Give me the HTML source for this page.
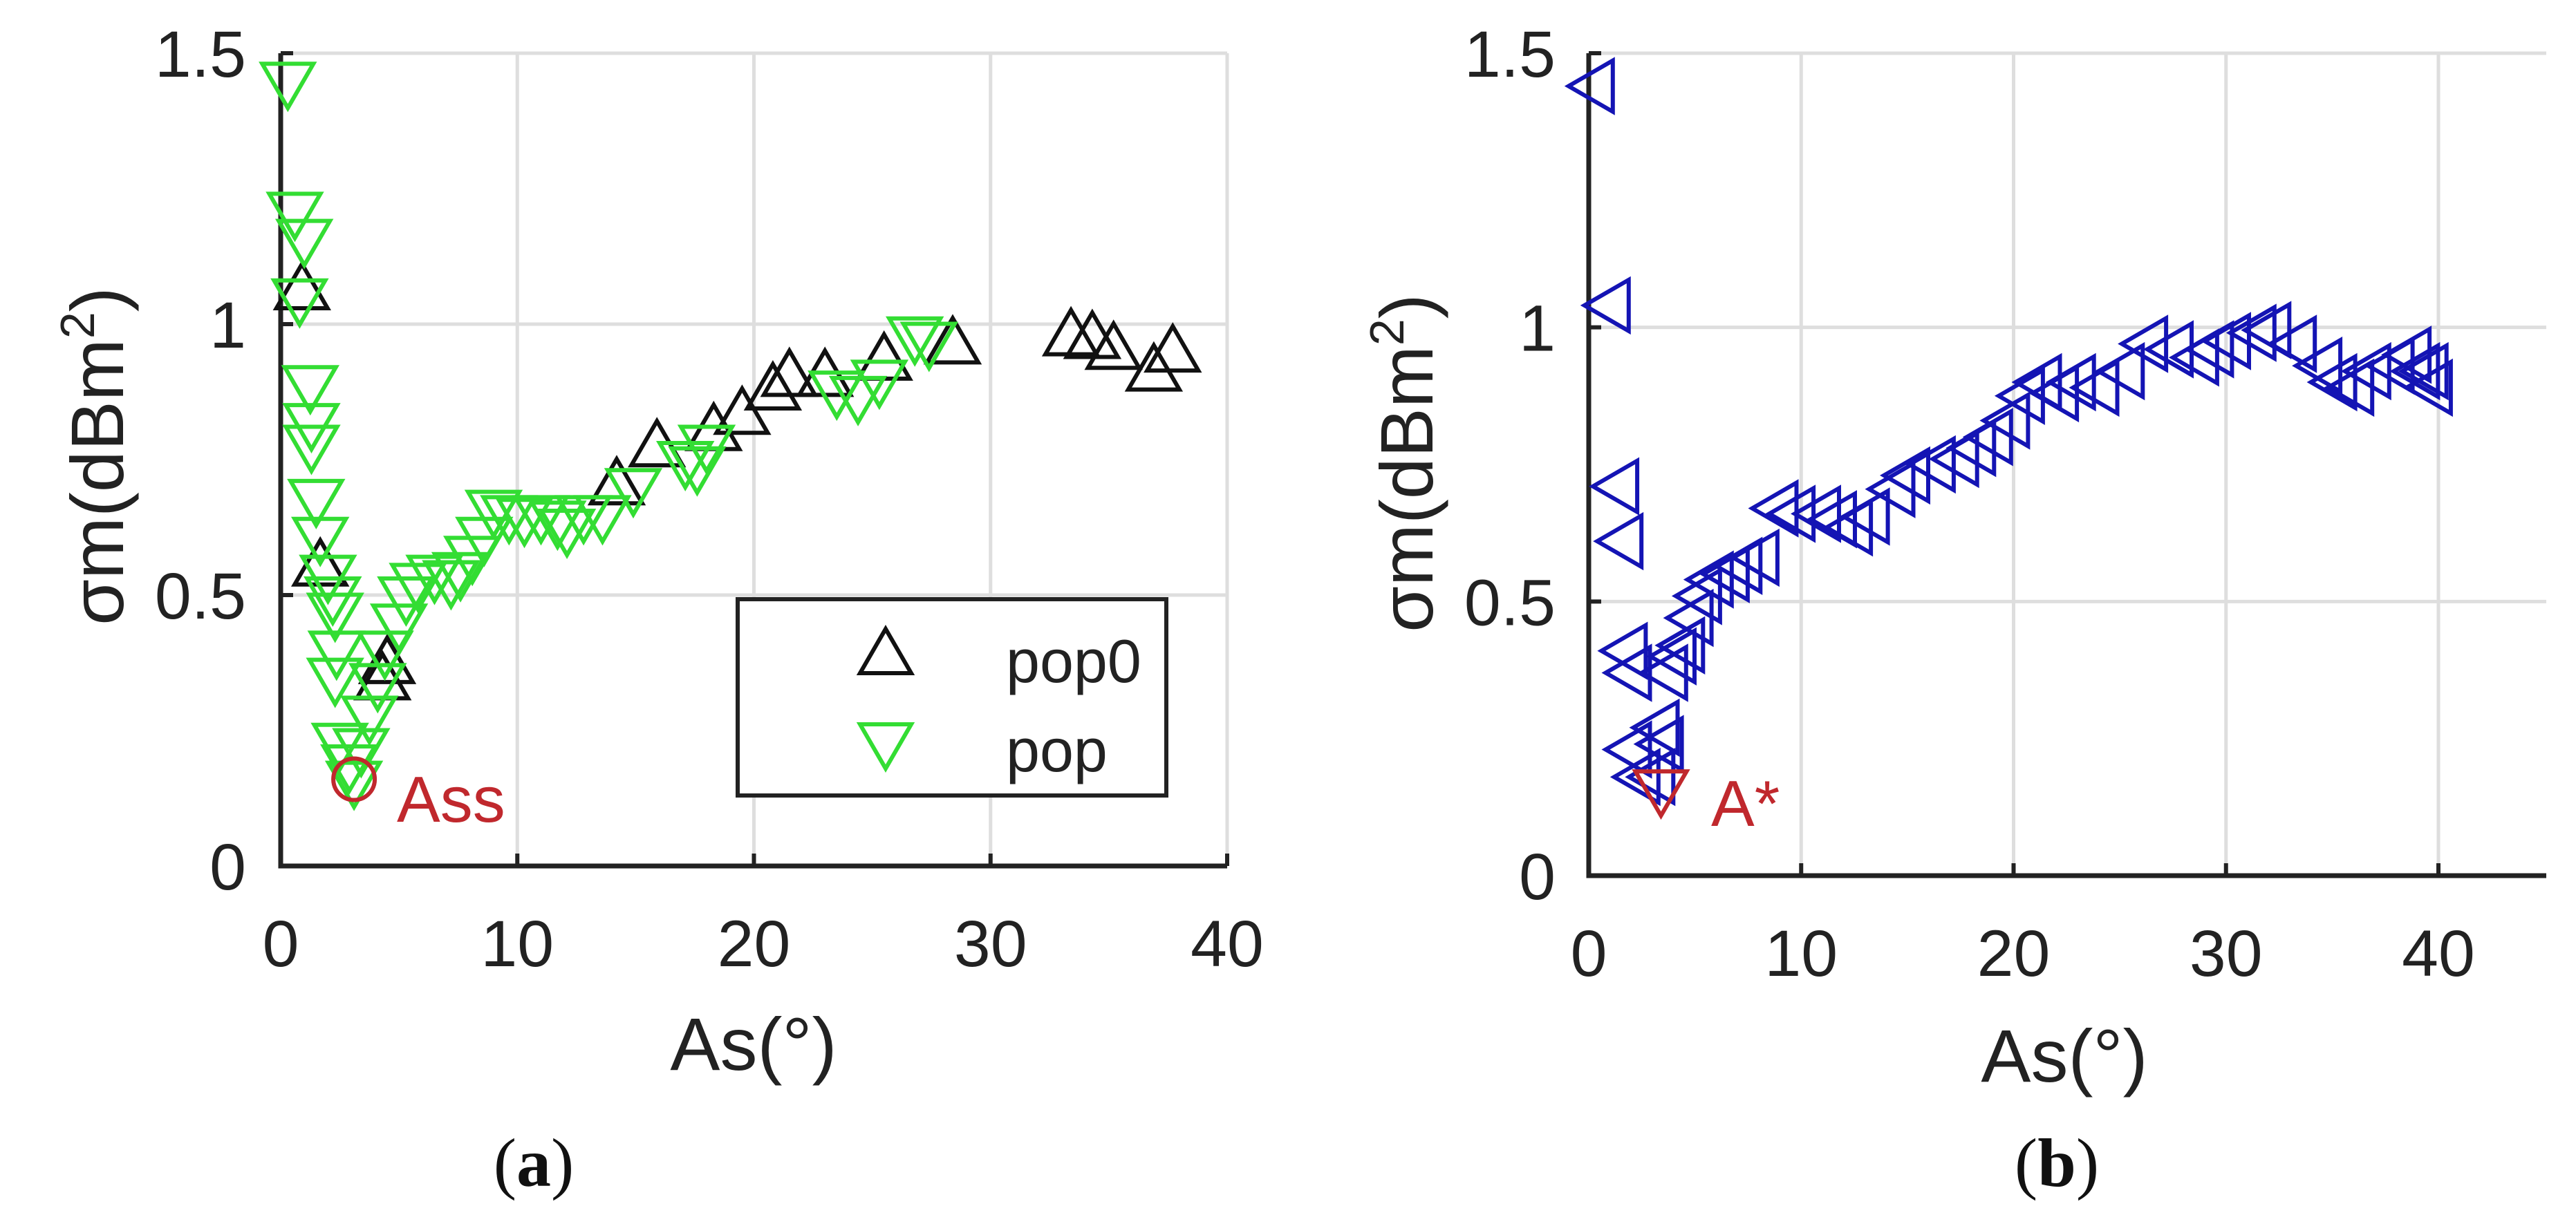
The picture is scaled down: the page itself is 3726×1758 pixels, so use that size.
<!DOCTYPE html>
<html><head><meta charset="utf-8"><style>
html,body{margin:0;padding:0;background:#fff;}
svg{display:block;font-family:"Liberation Sans",sans-serif;}
</style></head><body>
<svg id="fig" width="3726" height="1758" viewBox="0 0 3726 1758" xmlns="http://www.w3.org/2000/svg">
<g id="pa"></g>
<g id="pb"></g>
</svg>
<script>
const xTicks=[0,10,20,30,40];
const yTicks=[0,0.5,1,1.5];
const yTickLabels=["0","0.5","1","1.5"];
const pop0X=[0.9,1.67,4.3,4.5,14.2,15.9,18.3,19.5,20.8,21.5,23,25.5,28.4,33.4,34.3,35.2,36.9,37.7];
const pop0Y=[1.06,0.55,0.34,0.37,0.70,0.77,0.80,0.83,0.875,0.90,0.90,0.93,0.96,0.975,0.97,0.95,0.91,0.945];
const popX=[0.3,0.6,1.0,0.8,1.25,1.3,1.3,1.5,1.67,2.0,2.2,2.3,2.36,2.3,2.5,2.9,3.1,3.4,3.75,4.1,4.4,5.0,5.3,5.8,6.5,7.2,7.6,8.1,8.6,9.0,9.65,10.3,11.0,11.7,12.1,12.8,13.6,14.9,17.1,17.6,18.0,23.5,24.4,25.3,26.8,27.4];
const popY=[1.45,1.21,1.16,1.05,0.89,0.82,0.78,0.68,0.61,0.54,0.50,0.47,0.40,0.35,0.23,0.19,0.16,0.22,0.28,0.34,0.40,0.45,0.50,0.525,0.54,0.53,0.545,0.575,0.61,0.66,0.65,0.645,0.65,0.64,0.625,0.65,0.65,0.70,0.75,0.74,0.78,0.88,0.87,0.90,0.98,0.97];
const assX=[3.1], assY=[0.16];
const bX=[0.35,1.1,1.5,1.7,1.9,2.1,2.1,2.5,3.2,3.4,3.6,3.8,4.2,4.6,5.0,5.4,5.95,6.7,7.3,8.1,9.0,9.8,11.0,11.75,12.5,13.3,14.5,15.2,16.4,17.5,18.3,19.1,19.9,20.6,21.4,22.2,23,24.1,25.3,26.4,27.6,28.8,29.5,30.3,31.5,32.2,33.4,34.6,35.3,36.1,36.9,38.0,38.8,39.2,39.6,39.8];
const bY=[1.44,1.04,0.71,0.61,0.41,0.37,0.23,0.18,0.18,0.27,0.24,0.37,0.40,0.42,0.47,0.51,0.54,0.55,0.565,0.58,0.67,0.66,0.66,0.65,0.635,0.655,0.705,0.73,0.75,0.76,0.78,0.80,0.83,0.875,0.90,0.88,0.90,0.89,0.92,0.97,0.96,0.945,0.96,0.975,0.99,0.995,0.97,0.93,0.90,0.89,0.92,0.93,0.95,0.92,0.92,0.89];
const bestX=[3.4], bestY=[0.16];

const NS="http://www.w3.org/2000/svg";
function mk(parent,tag,attrs,text){const e=document.createElementNS(NS,tag);for(const k in attrs)e.setAttribute(k,attrs[k]);if(text!==undefined)e.textContent=text;parent.appendChild(e);return e;}
function tri(dir,x,y){const a=40,b=37,c=24;let p;
 if(dir==='up')p=[[x,y-a],[x+b,y+c],[x-b,y+c]];
 else if(dir==='down')p=[[x,y+a],[x+b,y-c],[x-b,y-c]];
 else p=[[x-a,y],[x+c,y-b],[x+c,y+b]];
 return p.map(q=>q[0].toFixed(1)+','+q[1].toFixed(1)).join(' ');}

function axes(g,P){
 const sx=v=>P.x0+(v-0)*(P.x1-P.x0)/P.xmax*1;
 const sy=v=>P.y0-(v)*(P.y0-P.y1)/1.5;
 const gg=mk(g,'g',{});
 
 
 xTicks.forEach(t=>{if(t>0){const l=mk(gg,'line',{x1:sx(t),x2:sx(t),y1:P.y0,y2:P.y1,stroke:'#dedede','stroke-width':5});
   }});
 yTicks.forEach(t=>{if(t>0){const l=mk(gg,'line',{x1:P.x0,x2:P.xr,y1:sy(t),y2:sy(t),stroke:'#dedede','stroke-width':5});
   }});
 const ax=mk(g,'path',{d:`M${P.x0},${P.y1} V${P.y0} H${P.xr}`,fill:'none',stroke:'#222','stroke-width':7});
 
 xTicks.forEach(t=>{mk(g,'line',{x1:sx(t),x2:sx(t),y1:P.y0,y2:P.y0-18,stroke:'#222','stroke-width':6});
  const tx=mk(g,'text',{x:sx(t),y:P.xlb,'text-anchor':'middle','font-size':95,fill:'#222'},String(t));
  });
 yTicks.forEach((t,i)=>{mk(g,'line',{x1:P.x0,x2:P.x0+18,y1:sy(t),y2:sy(t),stroke:'#222','stroke-width':6});
  const tx=mk(g,'text',{x:P.ylr,y:sy(t)+34,'text-anchor':'end','font-size':95,fill:'#222'},yTickLabels[i]);
  });
 const xt=mk(g,'text',{x:P.xtx,y:P.xty,'text-anchor':'middle','font-size':108,fill:'#222'},'As(°)');
 
 const yt=mk(g,'text',{x:0,y:0,'text-anchor':'middle','font-size':108,fill:'#222',transform:`translate(${P.ytx},${P.yty}) rotate(-90)`});
 
 yt.appendChild(document.createTextNode('σm(dBm'));
 mk(yt,'tspan',{'font-size':70,dy:-42},'2');
 mk(yt,'tspan',{dy:42},')');
 const cap=mk(g,'text',{x:P.capx,y:1716,'text-anchor':'middle','font-size':100,fill:'#111','font-family':'"Liberation Serif",serif'});
 
 cap.appendChild(document.createTextNode('('));mk(cap,'tspan',{'font-weight':'bold'},P.cap);cap.appendChild(document.createTextNode(')'));
 return {sx,sy};
}
const PA={x0:406,x1:1775,xmax:40,xr:1775,y0:1253,y1:77,xlb:1398,ylr:356,xtx:1090,xty:1548,ytx:178,yty:660,capx:772,cap:'a'};
const PB={x0:2298,x1:3527,xmax:40,xr:3683,y0:1267,y1:77,xlb:1412,ylr:2250,xtx:2986,xty:1565,ytx:2072,yty:670,capx:2975,cap:'b'};
const ga=document.getElementById('pa'), gb=document.getElementById('pb');
const A=axes(ga,PA), B=axes(gb,PB);

pop0X.forEach((v,i)=>{const p=mk(ga,'polygon',{points:tri('up',A.sx(v),A.sy(pop0Y[i])),fill:'none',stroke:'#111','stroke-width':6});
 });
popX.forEach((v,i)=>{const p=mk(ga,'polygon',{points:tri('down',A.sx(v),A.sy(popY[i])),fill:'none',stroke:'#33dd33','stroke-width':6});
 });
const ac=mk(ga,'circle',{cx:A.sx(assX[0]),cy:A.sy(assY[0]),r:30,fill:'none',stroke:'#c0282d','stroke-width':6});

const at=mk(ga,'text',{x:574,y:1189,'font-size':94,fill:'#c0282d'},'Ass');

const lg=mk(ga,'g',{});


mk(lg,'rect',{x:1067,y:867,width:620,height:284,fill:'#fff',stroke:'#222','stroke-width':6});
const l1=mk(lg,'polygon',{points:tri('up',1281,950),fill:'none',stroke:'#111','stroke-width':6});

const t1=mk(lg,'text',{x:1455,y:987,'font-size':88,fill:'#222'},'pop0');

const l2=mk(lg,'polygon',{points:tri('down',1281,1072),fill:'none',stroke:'#33dd33','stroke-width':6});

const t2=mk(lg,'text',{x:1455,y:1116,'font-size':88,fill:'#222'},'pop');


bX.forEach((v,i)=>{const p=mk(gb,'polygon',{points:tri('left',B.sx(v),B.sy(bY[i])),fill:'none',stroke:'#1414b4','stroke-width':6});
 });
const bm=mk(gb,'polygon',{points:tri('down',B.sx(bestX[0]),B.sy(bestY[0])),fill:'none',stroke:'#c0282d','stroke-width':6});

const bt=mk(gb,'text',{x:2475,y:1195,'font-size':94,fill:'#c0282d'},'A*');

</script>
</body></html>
